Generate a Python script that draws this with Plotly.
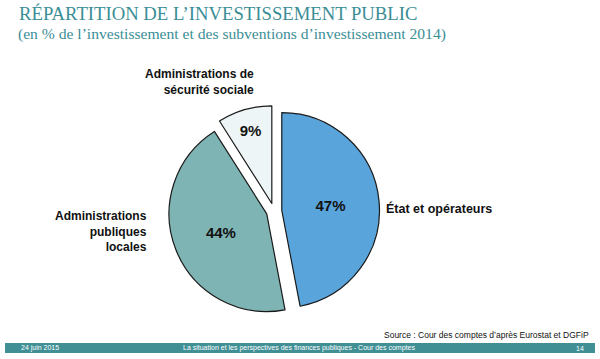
import plotly.graph_objects as go

categories = ["État et opérateurs", "Administrations publiques locales", "Administrations de sécurité sociale"]
values = [47, 44, 9]
pct_labels = ["47%", "44%", "9%"]
colors = ["#5aa4dc", "#7fb4b4", "#eef5f6"]

title = "RÉPARTITION DE L’INVESTISSEMENT PUBLIC"
subtitle = "(en % de l’investissement et des subventions d’investissement 2014)"
source = "Source : Cour des comptes d’après Eurostat et DGFiP"
footer_left = "24 juin 2015"
footer_mid = "La situation et les perspectives des finances publiques - Cour des comptes"
footer_right = "14"

W, H = 600, 359
cx, cy, half = 274, 211, 105.5
fig = go.Figure()
fig.add_trace(go.Pie(
    labels=categories, values=values, text=pct_labels,
    texttemplate="<b>%{text}</b>", textinfo="text",
    textposition="inside", insidetextorientation="horizontal",
    textfont=dict(family="Arial, Liberation Sans", size=15, color="#111111"),
    marker=dict(colors=colors, line=dict(color="#1a1a1a", width=1.2)),
    pull=[0.08, 0.08, 0.08], sort=False, direction="clockwise", rotation=0,
    showlegend=False, hoverinfo="label+percent",
    domain=dict(x=[(cx - half) / W, (cx + half) / W],
                y=[1 - (cy + half) / H, 1 - (cy - half) / H]),
))

lab_font = dict(family="Arial, Liberation Sans", size=12, color="#111111")
annotations = [
    dict(x=255 / W, y=1 - 82 / H, text="<b>Administrations de<br>sécurité sociale</b>",
         align="right", xanchor="right", yanchor="middle", font=lab_font),
    dict(x=385 / W, y=1 - 208 / H, text="<b>État et opérateurs</b>",
         align="left", xanchor="left", yanchor="middle",
         font=dict(family="Arial, Liberation Sans", size=12.5, color="#111111")),
    dict(x=148 / W, y=1 - 231 / H, text="<b>Administrations<br>publiques<br>locales</b>",
         align="right", xanchor="right", yanchor="middle", font=lab_font),
    dict(x=18 / W, y=1 - 14 / H, text=title, xanchor="left", yanchor="middle", align="left",
         font=dict(family="Liberation Serif, Times New Roman, serif", size=18.7, color="#3a8e96")),
    dict(x=17 / W, y=1 - 34 / H, text=subtitle, xanchor="left", yanchor="middle", align="left",
         font=dict(family="Liberation Serif, Times New Roman, serif", size=15.6, color="#3a8e96")),
    dict(x=590 / W, y=1 - 335 / H, text=source, xanchor="right", yanchor="middle",
         font=dict(family="Arial, Liberation Sans", size=8.5, color="#111111")),
    dict(x=20 / W, y=1 - 348 / H, text=footer_left, xanchor="left", yanchor="middle",
         font=dict(family="Arial, Liberation Sans", size=7, color="#ffffff")),
    dict(x=299 / W, y=1 - 348 / H, text=footer_mid, xanchor="center", yanchor="middle",
         font=dict(family="Arial, Liberation Sans", size=7, color="#ffffff")),
    dict(x=585 / W, y=1 - 348 / H, text=footer_right, xanchor="right", yanchor="middle",
         font=dict(family="Arial, Liberation Sans", size=7, color="#ffffff")),
]
for a in annotations:
    a.update(xref="paper", yref="paper", showarrow=False, borderpad=0)

fig.update_layout(
    width=W, height=H, margin=dict(l=0, r=0, t=0, b=0),
    paper_bgcolor="white", plot_bgcolor="white",
    annotations=annotations,
    shapes=[dict(type="rect", xref="paper", yref="paper",
                 x0=5 / W, x1=595 / W, y0=1 - 353 / H, y1=1 - 343 / H,
                 fillcolor="#3f8f95", line=dict(width=0), layer="below")],
)
fig.write_html("out.html", config={"displayModeBar": False},
               post_script="document.body.style.margin='0';document.body.style.overflow='hidden';")
